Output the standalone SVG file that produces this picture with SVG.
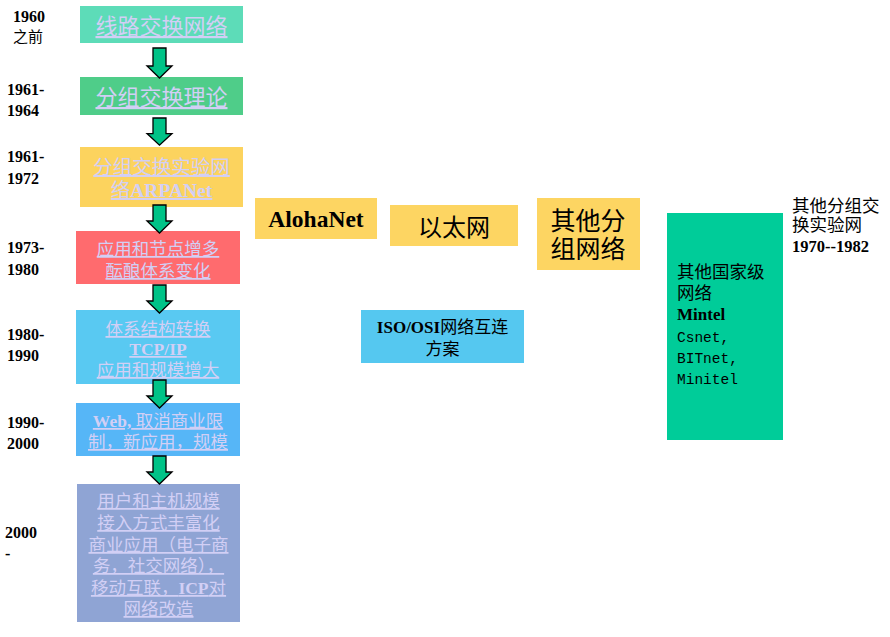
<svg xmlns="http://www.w3.org/2000/svg" width="890" height="637" viewBox="0 0 890 637">
<style>
.yr{font-family:'Liberation Serif','Noto Sans CJK SC',serif;font-weight:bold;font-size:16px;fill:#000}
.yrc{font-family:'Noto Sans CJK SC',sans-serif;font-size:15px;fill:#000}
.lk{font-family:'Liberation Serif','Noto Sans CJK SC',serif;fill:#d2cff5;text-anchor:middle;text-decoration:underline}
.b{font-weight:bold}
.bk{font-family:'Liberation Serif','Noto Sans CJK SC',serif;fill:#000}
.mono{font-family:'Liberation Mono',monospace;font-size:14.5px;fill:#000}
.arr{fill:#00c387;stroke:#000;stroke-width:1.3}
</style>
<defs>
<path id="ar" class="arr" d="M-6.5,0 H6.5 V16 H12.5 L0,28 L-12.5,16 H-6.5 Z"/>
</defs>

<g id="years">
<text class="yr" x="13" y="22">1960</text>
<text class="yrc" x="13" y="42">之前</text>
<text class="yr" x="7" y="95">1961-</text>
<text class="yr" x="7" y="116">1964</text>
<text class="yr" x="7" y="162">1961-</text>
<text class="yr" x="7" y="184">1972</text>
<text class="yr" x="7" y="253">1973-</text>
<text class="yr" x="7" y="275">1980</text>
<text class="yr" x="7" y="340">1980-</text>
<text class="yr" x="7" y="361">1990</text>
<text class="yr" x="7" y="428">1990-</text>
<text class="yr" x="7" y="449">2000</text>
<text class="yr" x="5" y="538">2000</text>
<text class="yr" x="5" y="559">-</text>
</g>

<g id="n1">
<rect x="80" y="6" width="163" height="37" fill="#5ddcb8"/>
<text class="lk" x="161.5" y="34" font-size="22">线路交换网络</text>
</g>
<g id="n2">
<rect x="80" y="77" width="163" height="38" fill="#4fcd89"/>
<text class="lk" x="161.5" y="105" font-size="22">分组交换理论</text>
</g>
<g id="n3">
<rect x="80" y="147" width="163" height="60" fill="#fcd35e"/>
<text class="lk" x="161.5" y="174" font-size="19.5">分组交换实验网</text>
<text class="lk" x="161.5" y="197" font-size="19.5">络<tspan class="b">ARPANet</tspan></text>
</g>
<g id="n4">
<rect x="76" y="231" width="164" height="53" fill="#ff6b6e"/>
<text class="lk" x="158" y="255" font-size="17.5">应用和节点增多</text>
<text class="lk" x="158" y="277" font-size="17.5">酝酿体系变化</text>
</g>
<g id="n5">
<rect x="76" y="310" width="164" height="74" fill="#59c9f2"/>
<text class="lk" x="158" y="335" font-size="17.5">体系结构转换</text>
<text class="lk b" x="158" y="355" font-size="17.5">TCP/IP</text>
<text class="lk" x="158" y="376" font-size="17.5">应用和规模增大</text>
</g>
<g id="n6">
<rect x="76" y="403" width="164" height="53" fill="#56b6f7"/>
<text class="lk" x="158" y="427" font-size="17.5"><tspan class="b">Web,</tspan> 取消商业限</text>
<text class="lk" x="158" y="448" font-size="17.5">制，新应用，规模</text>
</g>
<g id="n7">
<rect x="77" y="484" width="163" height="138" fill="#8fa4d4"/>
<text class="lk" x="158.5" y="507" font-size="17.5">用户和主机规模</text>
<text class="lk" x="158.5" y="529" font-size="17.5">接入方式丰富化</text>
<text class="lk" x="158.5" y="551" font-size="17.5">商业应用（电子商</text>
<text class="lk" x="158.5" y="572" font-size="17.5">务，社交网络），</text>
<text class="lk" x="158.5" y="594" font-size="17.5">移动互联，<tspan class="b">ICP</tspan>对</text>
<text class="lk" x="158.5" y="615" font-size="17.5">网络改造</text>
</g>

<g id="connectors">
<path class="arr" d="M153,48 H166 V66 H172 L159.5,78 L147,66 H153 Z"/>
<use href="#ar" transform="translate(159.5,118) scale(1,0.97)"/>
<use href="#ar" transform="translate(159.5,205)"/>
<use href="#ar" transform="translate(159.5,285)"/>
<use href="#ar" transform="translate(159.5,380)"/>
<use href="#ar" transform="translate(159.5,456)"/>
</g>

<g id="aloha">
<rect x="255" y="198" width="122" height="41" fill="#fdd562"/>
<text class="bk b" x="316" y="227" font-size="23.5" text-anchor="middle">AlohaNet</text>
</g>
<g id="ethernet">
<rect x="390" y="205" width="128" height="41" fill="#fdd562"/>
<text class="bk" x="454" y="236" font-size="24" text-anchor="middle">以太网</text>
</g>
<g id="other">
<rect x="537" y="198" width="103" height="72" fill="#fdd562"/>
<text class="bk" x="588" y="230" font-size="25" text-anchor="middle">其他分</text>
<text class="bk" x="588" y="258" font-size="25" text-anchor="middle">组网络</text>
</g>
<g id="iso">
<rect x="361" y="310" width="163" height="53" fill="#55c8f0"/>
<text class="bk" x="442.5" y="333" font-size="17" text-anchor="middle"><tspan class="b">ISO/OSI</tspan>网络互连</text>
<text class="bk" x="442.5" y="355" font-size="17" text-anchor="middle">方案</text>
</g>
<g id="national">
<rect x="667" y="213" width="116" height="227" fill="#00cc99"/>
<text class="bk" x="677" y="278" font-size="17.5">其他国家级</text>
<text class="bk" x="677" y="299" font-size="17.5">网络</text>
<text class="bk b" x="677" y="320" font-size="17">Mintel</text>
<text class="mono" x="677" y="342">Csnet,</text>
<text class="mono" x="677" y="363">BITnet,</text>
<text class="mono" x="677" y="384">Minitel</text>
</g>
<g id="note">
<text class="bk" x="792" y="212" font-size="17.5">其他分组交</text>
<text class="bk" x="792" y="231" font-size="17.5">换实验网</text>
<text class="bk b" x="792" y="252" font-size="16.5">1970--1982</text>
</g>
</svg>
